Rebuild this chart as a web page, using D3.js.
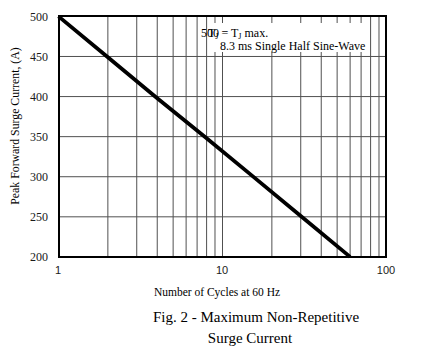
<!DOCTYPE html>
<html><head><meta charset="utf-8">
<script src="https://cdn.jsdelivr.net/npm/d3@7"></script>
<style>
html,body{margin:0;padding:0;background:#fff;}
svg{display:block;}
</style></head>
<body>
<script>
// ---- data ----
const cycles  = [1, 2, 4, 8, 15, 30, 60];
const current = [500, 449, 398, 348, 302, 251, 200];
const xTickLabels = [1, 10, 100];
const yTickLabels = [200, 250, 300, 350, 400, 450, 500];
const xGrid = [2,3,4,5,6,7,8,9,10,20,30,40,50,60,70,80,90];
const xTitle = "Number of Cycles at 60 Hz";
const yTitle = "Peak Forward Surge Current, (A)";
const captionLines = ["Fig. 2 - Maximum Non-Repetitive", "Surge Current"];
const noteLine2 = "8.3 ms Single Half Sine-Wave";

const W = 430, H = 354;
const serif = "'Liberation Serif','Times New Roman',serif";
const sans = "'Liberation Sans',Arial,sans-serif";

const svg = d3.select("body").append("svg").attr("width", W).attr("height", H);

const x = d3.scaleLog().domain([1, 100]).range([58.5, 386.5]);
const y = d3.scaleLinear().domain([200, 500]).range([256.9, 16.4]);

// grid
const g = svg.append("g");
g.selectAll("line.vx").data(xGrid).join("line")
  .attr("x1", d => x(d)).attr("x2", d => x(d))
  .attr("y1", y(200)).attr("y2", y(500))
  .attr("stroke", "#505050").attr("stroke-width", 1);
g.selectAll("line.hy").data(yTickLabels.slice(1, -1)).join("line")
  .attr("x1", x(1)).attr("x2", x(100))
  .attr("y1", d => y(d)).attr("y2", d => y(d))
  .attr("stroke", "#505050").attr("stroke-width", 1);

// annotation box
svg.append("rect").attr("x", 209).attr("y", 23).attr("width", 158).attr("height", 29).attr("fill", "#fff");

// data line
const line = d3.line().x((d, i) => x(cycles[i])).y((d, i) => y(current[i]));
svg.append("path").datum(current).attr("d", line)
  .attr("fill", "none").attr("stroke", "#000").attr("stroke-width", 3.8)
  .attr("stroke-linecap", "butt");

// frame
svg.append("rect").attr("x", 59).attr("y", 16).attr("width", 327).attr("height", 241)
  .attr("fill", "none").attr("stroke", "#000").attr("stroke-width", 2);

// y tick labels
svg.selectAll("text.yt").data(yTickLabels).join("text")
  .attr("x", 48).attr("y", d => y(d)).attr("dy", "0.35em")
  .attr("text-anchor", "end").attr("font-family", serif).attr("font-size", 12)
  .attr("fill", "#1a1a1a").text(d => d);

// x tick labels
svg.selectAll("text.xt").data(xTickLabels).join("text")
  .attr("x", d => x(d) - 0.5).attr("y", 274)
  .attr("text-anchor", "middle").attr("font-family", sans).attr("font-size", 11)
  .attr("fill", "#1a1a1a").text(d => d);

// axis titles
svg.append("text").attr("x", 217).attr("y", 296).attr("text-anchor", "middle")
  .attr("font-family", serif).attr("font-size", 11.5).attr("fill", "#000").text(xTitle);
svg.append("text").attr("transform", "translate(19,126) rotate(-90)").attr("text-anchor", "middle")
  .attr("font-family", serif).attr("font-size", 11.8).attr("fill", "#000").text(yTitle);

// caption
svg.append("text").attr("x", 256).attr("y", 322).attr("text-anchor", "middle")
  .attr("font-family", serif).attr("font-size", 15).attr("fill", "#000").text(captionLines[0]);
svg.append("text").attr("x", 250).attr("y", 343).attr("text-anchor", "middle")
  .attr("font-family", serif).attr("font-size", 15).attr("fill", "#000").text(captionLines[1]);

// annotation text
svg.append("text").attr("x", 201).attr("y", 37)
  .attr("font-family", serif).attr("font-size", 12).attr("fill", "#000").text("500");
const t1b = svg.append("text").attr("x", 208).attr("y", 37)
  .attr("font-family", serif).attr("font-size", 12).attr("fill", "#000");
t1b.append("tspan").text("T");
t1b.append("tspan").attr("font-size", 8).attr("dy", 2).text("J");
t1b.append("tspan").attr("dy", -2).text(" = T");
t1b.append("tspan").attr("font-size", 8).attr("dy", 2).text("J");
t1b.append("tspan").attr("dy", -2).text(" max.");
svg.append("text").attr("x", 220).attr("y", 49.5)
  .attr("font-family", serif).attr("font-size", 12).attr("fill", "#000").text(noteLine2);
</script>
</body></html>
